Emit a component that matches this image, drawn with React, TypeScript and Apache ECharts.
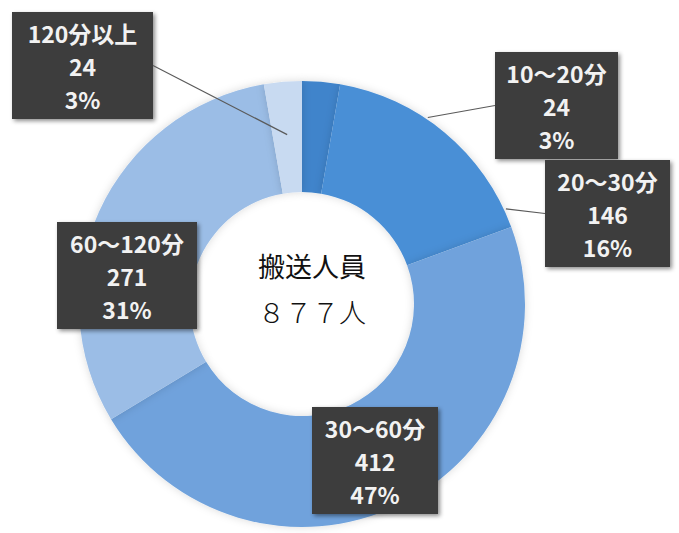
import React, { useEffect, useRef } from "react";
import * as echarts from "echarts";

const categories = ["10～20分", "20～30分", "30～60分", "60～120分", "120分以上"];
const values = [24, 146, 412, 271, 24];
const percents = ["3%", "16%", "47%", "31%", "3%"];
const colors = ["#3f84cb", "#4a8fd6", "#6fa2dc", "#9bbde6", "#c8daf1"];
const centerTitle = "搬送人員";
const centerTotal = "８７７人";

// label box layout per slice: [left, top, width, showLine, anchorAngleDeg, anchorRadius]
const labelBox: [number, number, number, boolean, number, number][] = [
  [495, 52, 123, true, 34, 225],
  [545, 160, 125, true, 65, 225],
  [312, 407, 126, false, 0, 0],
  [57, 222, 140, false, 0, 0],
  [12, 12, 141, true, 355, 170],
];

const CX = 302;
const CY = 304;
const BOX_H = 107;
const PAD_X = 4;

export default function App() {
  const ref = useRef<HTMLDivElement>(null);
  useEffect(() => {
    document.body.style.margin = "0";
    const chart = echarts.init(ref.current!, null, { renderer: "svg" });
    const data = categories.map((c, i) => ({
      name: c,
      value: values[i],
      itemStyle: { color: colors[i] },
      label: { width: labelBox[i][2] - 2 * PAD_X },
    }));
    const lines = labelBox
      .filter((b) => b[3])
      .map((b) => {
        const a = (b[4] * Math.PI) / 180;
        const sx = CX + b[5] * Math.sin(a);
        const sy = CY - b[5] * Math.cos(a);
        const ex = sx < b[0] ? b[0] : b[0] + b[2];
        const ey = b[1] + BOX_H / 2;
        return {
          type: "line",
          z: 10,
          silent: true,
          shape: { x1: sx, y1: sy, x2: ex, y2: ey },
          style: { stroke: "#5a5a5a", lineWidth: 1.2 },
        };
      });
    chart.setOption({
      animation: false,
      backgroundColor: "#ffffff",
      graphic: lines,
      title: [
        {
          text: centerTitle,
          left: 307,
          top: 247,
          textAlign: "center",
          textStyle: {
            fontFamily: "Noto Sans CJK JP",
            fontSize: 27,
            fontWeight: "normal",
            color: "#111",
          },
        },
        {
          text: centerTotal,
          left: 307,
          top: 293,
          textAlign: "center",
          textStyle: {
            fontFamily: "Noto Sans CJK JP",
            fontSize: 27,
            fontWeight: 300,
            color: "#111",
          },
        },
      ],
      series: [
        {
          type: "pie",
          z: 2,
          center: [CX, CY],
          radius: [112, 223],
          startAngle: 90,
          clockwise: true,
          data,
          itemStyle: {
            shadowColor: "rgba(0,0,0,0.15)",
            shadowBlur: 8,
          },
          label: {
            show: true,
            position: "outside",
            overflow: "none",
            formatter: (p: any) =>
              `{t|${p.name}}\n{v|${p.value}}\n{v|${percents[p.dataIndex]}}`,
            backgroundColor: "#3d3d3d",
            padding: [4, PAD_X, 4, PAD_X],
            align: "center",
            shadowColor: "rgba(0,0,0,0.45)",
            shadowBlur: 4,
            shadowOffsetX: 2,
            shadowOffsetY: 2,
            rich: {
              t: {
                color: "#f2f2f2",
                fontSize: 23,
                fontWeight: "bold",
                fontFamily: "Noto Sans CJK JP",
                lineHeight: 33,
                align: "center",
              },
              v: {
                color: "#f2f2f2",
                fontSize: 23,
                fontWeight: "bold",
                fontFamily: "Noto Sans CJK JP",
                lineHeight: 33,
                align: "center",
              },
            },
          },
          labelLine: { show: false },
          labelLayout: (p: any) => {
            const b = labelBox[p.dataIndex];
            return {
              x: b[0],
              y: b[1],
              align: "left",
              verticalAlign: "top",
            };
          },
          emphasis: { disabled: true },
        },
      ],
    });
    return () => chart.dispose();
  }, []);
  return <div ref={ref} style={{ width: 679, height: 533 }} />;
}
